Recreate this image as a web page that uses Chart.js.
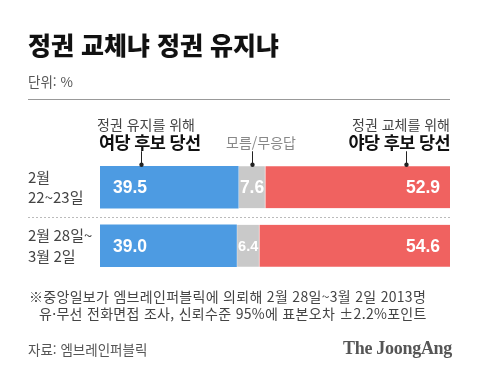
<!DOCTYPE html>
<html lang="ko">
<head>
<meta charset="utf-8">
<script src="https://cdn.jsdelivr.net/npm/chart.js@4.4.1/dist/chart.umd.min.js"></script>
<style>
  html, body { margin: 0; padding: 0; background: #fff; }
  #wrap { position: relative; width: 480px; height: 387px; overflow: hidden; font-family: "Noto Sans CJK KR", "Noto Sans", sans-serif; }
  #wrap canvas { position: absolute; left: 0; top: 0; }
  .t { position: absolute; white-space: nowrap; line-height: 1; }
  #title { left: 28px; top: 32px; font-size: 25px; font-weight: 900; color: #111; letter-spacing: 0; }
  #unit { left: 28px; top: 75px; font-size: 13.5px; color: #555; }
  #rule { position: absolute; left: 28px; top: 99px; width: 422px; height: 1px; background: #999; }
  .sub { font-size: 14px; color: #444; top: 117px; }
  .big { font-size: 17.5px; font-weight: 700; color: #111; top: 133px; letter-spacing: -0.6px; }
  #dk { left: 226px; top: 135px; font-size: 14px; color: #888; }
  .foot { font-size: 14px; color: #444; letter-spacing: 0.3px; }
  #src { left: 28px; top: 343px; font-size: 13.5px; color: #555; }
  #logo { right: 28px; top: 339px; font-size: 18px; font-weight: 700; color: #555; font-family: "Liberation Serif", "DejaVu Serif", serif; letter-spacing: -0.3px; }
</style>
</head>
<body>
<div id="wrap">
  <canvas id="chart" width="480" height="387"></canvas>
  <div class="t" id="title">정권 교체냐 정권 유지냐</div>
  <div class="t" id="unit">단위: %</div>
  <div id="rule"></div>
  <div class="t sub" style="left:97px">정권 유지를 위해</div>
  <div class="t big" style="left:99px">여당 후보 당선</div>
  <div class="t" id="dk">모름/무응답</div>
  <div class="t sub" style="right:30px">정권 교체를 위해</div>
  <div class="t big" style="right:30px">야당 후보 당선</div>
  <div class="t foot" style="left:29px; top:289px">※중앙일보가 엠브레인퍼블릭에 의뢰해 2월 28일~3월 2일 2013명</div>
  <div class="t foot" style="left:39px; top:306px">유·무선 전화면접 조사, 신뢰수준 95%에 표본오차 ±2.2%포인트</div>
  <div class="t" id="src">자료: 엠브레인퍼블릭</div>
  <div class="t" id="logo">The JoongAng</div>
</div>
<script>
// 조사 기간과 응답 비율(%)
const periods = [['2월', '22~23일'], ['2월 28일~', '3월 2일']];
const ruling = [39.5, 39.0];      // 정권 유지: 여당 후보 당선
const unknown = [7.6, 6.4];       // 모름/무응답
const opposition = [52.9, 54.6];  // 정권 교체: 야당 후보 당선
const seriesNames = ['여당 후보 당선', '모름/무응답', '야당 후보 당선'];
const seriesColors = ['#4d9be2', '#c9c9c9', '#f06260'];

// 막대 위 값 표시
const valueLabels = {
    id: 'valueLabels',
    afterDatasetsDraw(chart) {
        const ctx = chart.ctx;
        ctx.save();
        ctx.fillStyle = '#fff';
        ctx.textBaseline = 'middle';
        chart.data.datasets.forEach((ds, i) => {
            chart.getDatasetMeta(i).data.forEach((bar, j) => {
                const txt = ds.data[j].toFixed(1);
                const left = Math.min(bar.x, bar.base), right = Math.max(bar.x, bar.base);
                let size = 17.5;
                ctx.font = 'bold ' + size + 'px "Liberation Sans", Arial, sans-serif';
                if (i === 1) {
                    while (ctx.measureText(txt).width > right - left - 2 && size > 10) {
                        size -= 0.5;
                        ctx.font = 'bold ' + size + 'px "Liberation Sans", Arial, sans-serif';
                    }
                    ctx.textAlign = 'center';
                    ctx.fillText(txt, (left + right) / 2 + 0.5, bar.y + 1);
                } else if (i === 0) {
                    ctx.textAlign = 'left';
                    ctx.fillText(txt, left + 13, bar.y + 1);
                } else {
                    ctx.textAlign = 'right';
                    ctx.fillText(txt, right - 10, bar.y + 1);
                }
            });
        });
        ctx.restore();
    }
};

// 구분선과 범례 지시선
const decorations = {
    id: 'decorations',
    afterDraw(chart) {
        const ctx = chart.ctx;
        const yScale = chart.scales.y;
        const area = chart.chartArea;
        ctx.save();
        // 점선 구분선
        const sepY = Math.round((yScale.getPixelForValue(0) + yScale.getPixelForValue(1)) / 2) + 0.5;
        ctx.strokeStyle = '#bbb';
        ctx.lineWidth = 1;
        ctx.setLineDash([2, 2]);
        ctx.beginPath();
        ctx.moveTo(area.left - yScale.width, sepY);
        ctx.lineTo(area.right, sepY);
        ctx.stroke();
        ctx.setLineDash([]);
        // 지시선 (첫 번째 막대 위)
        const frac = [0.3, 0.5, 0.76];
        ctx.strokeStyle = '#222';
        ctx.fillStyle = '#222';
        chart.data.datasets.forEach((ds, i) => {
            const bar = chart.getDatasetMeta(i).data[0];
            const left = Math.min(bar.x, bar.base), right = Math.max(bar.x, bar.base);
            const x = Math.round(left + (right - left) * frac[i]) + 0.5;
            const top = bar.y - bar.height / 2;
            ctx.beginPath();
            ctx.moveTo(x, top - 15);
            ctx.lineTo(x, top - 1);
            ctx.stroke();
            ctx.beginPath();
            ctx.arc(x, top - 1.5, 2.2, 0, Math.PI * 2);
            ctx.fill();
        });
        ctx.restore();
    }
};

const ctx = document.getElementById('chart').getContext('2d');
const chart = new Chart(ctx, {
    type: 'bar',
    data: {
        labels: periods,
        datasets: [ruling, unknown, opposition].map((vals, i) => ({
            label: seriesNames[i],
            data: vals,
            backgroundColor: seriesColors[i],
            borderColor: '#fff',
            borderWidth: i === 0 ? 0 : { left: 1, right: 0, top: 0, bottom: 0 },
            borderSkipped: false,
            barThickness: 42
        }))
    },
    options: {
        indexAxis: 'y',
        responsive: false,
        animation: false,
        layout: { padding: { left: 28, right: 30, top: 158, bottom: 112 } },
        scales: {
            x: { stacked: true, min: 0, max: 100, display: false },
            y: {
                stacked: true,
                grid: { display: false },
                border: { display: false },
                afterFit(scale) { scale.width = 72; },
                ticks: {
                    crossAlign: 'far',
                    padding: 0,
                    color: '#444',
                    font: { size: 15, family: '"Noto Sans CJK KR", "Noto Sans", sans-serif', lineHeight: 1.38 }
                }
            }
        },
        plugins: {
            legend: { display: false },
            tooltip: { enabled: false }
        }
    },
    plugins: [valueLabels, decorations]
});
</script>
</body>
</html>
